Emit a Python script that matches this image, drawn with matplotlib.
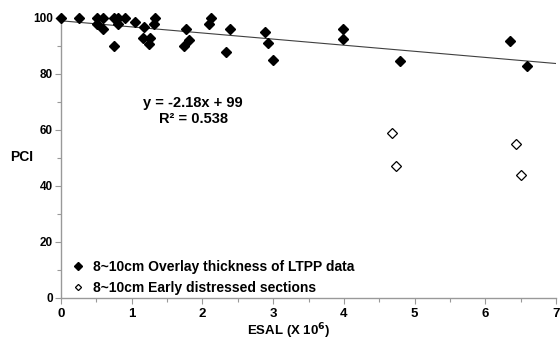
import numpy as np
import matplotlib
matplotlib.use('Agg')
import matplotlib.pyplot as plt
from matplotlib.ticker import MultipleLocator

plt.rcParams['font.family'] = ['Liberation Sans', 'DejaVu Sans']
plt.rcParams['font.weight'] = 'bold'

# LTPP 데이터 (8~10cm overlay)
ltpp_esal = [0.0, 0.26, 0.51, 0.59, 0.51, 0.59, 0.75, 0.75, 0.80, 0.80, 0.90,
             1.05, 1.18, 1.16, 1.26, 1.25, 1.33, 1.32, 1.77, 1.81, 1.74,
             2.12, 2.09, 2.39, 2.33, 2.89, 2.92, 3.00, 3.99, 3.99, 4.80,
             6.35, 6.59]
ltpp_pci = [100, 100, 100, 100, 98, 96, 100, 90, 100, 98, 100,
            98.6, 96.7, 92.7, 92.9, 90.7, 100, 98, 96, 92.2, 90,
            100, 98, 96, 88, 95, 90.9, 85, 96, 92.5, 84.6,
            91.8, 82.7]

# early distressed sections
early_esal = [4.68, 4.73, 6.44, 6.51]
early_pci = [58.9, 47.1, 55, 44]

slope = -2.18
intercept = 99

fig = plt.figure(figsize=(5.6, 3.48), dpi=100, facecolor='white')
ax = fig.add_axes([0.109, 0.1437, 0.884, 0.8046])

# trend line
xs = np.array([0, 7])
ax.plot(xs, slope * xs + intercept, color='#404040', lw=0.8, zorder=1)

ax.plot(ltpp_esal, ltpp_pci, 'D', ms=5.6, color='black', mec='black',
        label='8~10cm Overlay thickness of LTPP data', zorder=3, clip_on=False)
ax.plot(early_esal, early_pci, 'D', ms=4.8, mfc='white', mec='black', mew=0.9,
        label='8~10cm Early distressed sections', zorder=3, clip_on=False)

ax.text(1.87, 69.6, 'y = -2.18x + 99', ha='center', va='center', fontsize=10.5, fontweight='bold')
ax.text(1.87, 64.0, 'R² = 0.538', ha='center', va='center', fontsize=10.5, fontweight='bold')

ax.set_xlim(0, 7)
ax.set_ylim(0, 100)
ax.xaxis.set_major_locator(MultipleLocator(1))
ax.xaxis.set_minor_locator(MultipleLocator(0.5))
ax.yaxis.set_major_locator(MultipleLocator(20))
ax.yaxis.set_minor_locator(MultipleLocator(10))

for s in ['top', 'right']:
    ax.spines[s].set_visible(False)
for s in ['left', 'bottom']:
    ax.spines[s].set_color('#999999')
    ax.spines[s].set_linewidth(1.0)

ax.tick_params(which='both', color='#999999', direction='out', width=0.8)
ax.tick_params(which='major', length=4)
ax.tick_params(which='minor', length=3)
ax.tick_params(axis='x', labelsize=9.5, pad=3)
ax.tick_params(axis='y', labelsize=8.5, pad=2)
for lab in ax.get_xticklabels() + ax.get_yticklabels():
    lab.set_fontweight('bold')

ax.set_xlabel('ESAL (X 10$^{6}$)', fontsize=9.5, fontweight='bold')
ax.xaxis.set_label_coords(0.459, -0.085)
ax.set_ylabel('PCI', fontsize=10, fontweight='bold', rotation=0)
ax.yaxis.set_label_coords(-0.08, 0.48)

leg = ax.legend(loc='lower left', bbox_to_anchor=(0.0, -0.02), frameon=False,
                handletextpad=0.5, handlelength=1.2, borderaxespad=0.2,
                labelspacing=0.55, markerscale=0.65,
                prop={'weight': 'bold', 'size': 10})

fig.savefig('out.png', dpi=100, facecolor='white')
